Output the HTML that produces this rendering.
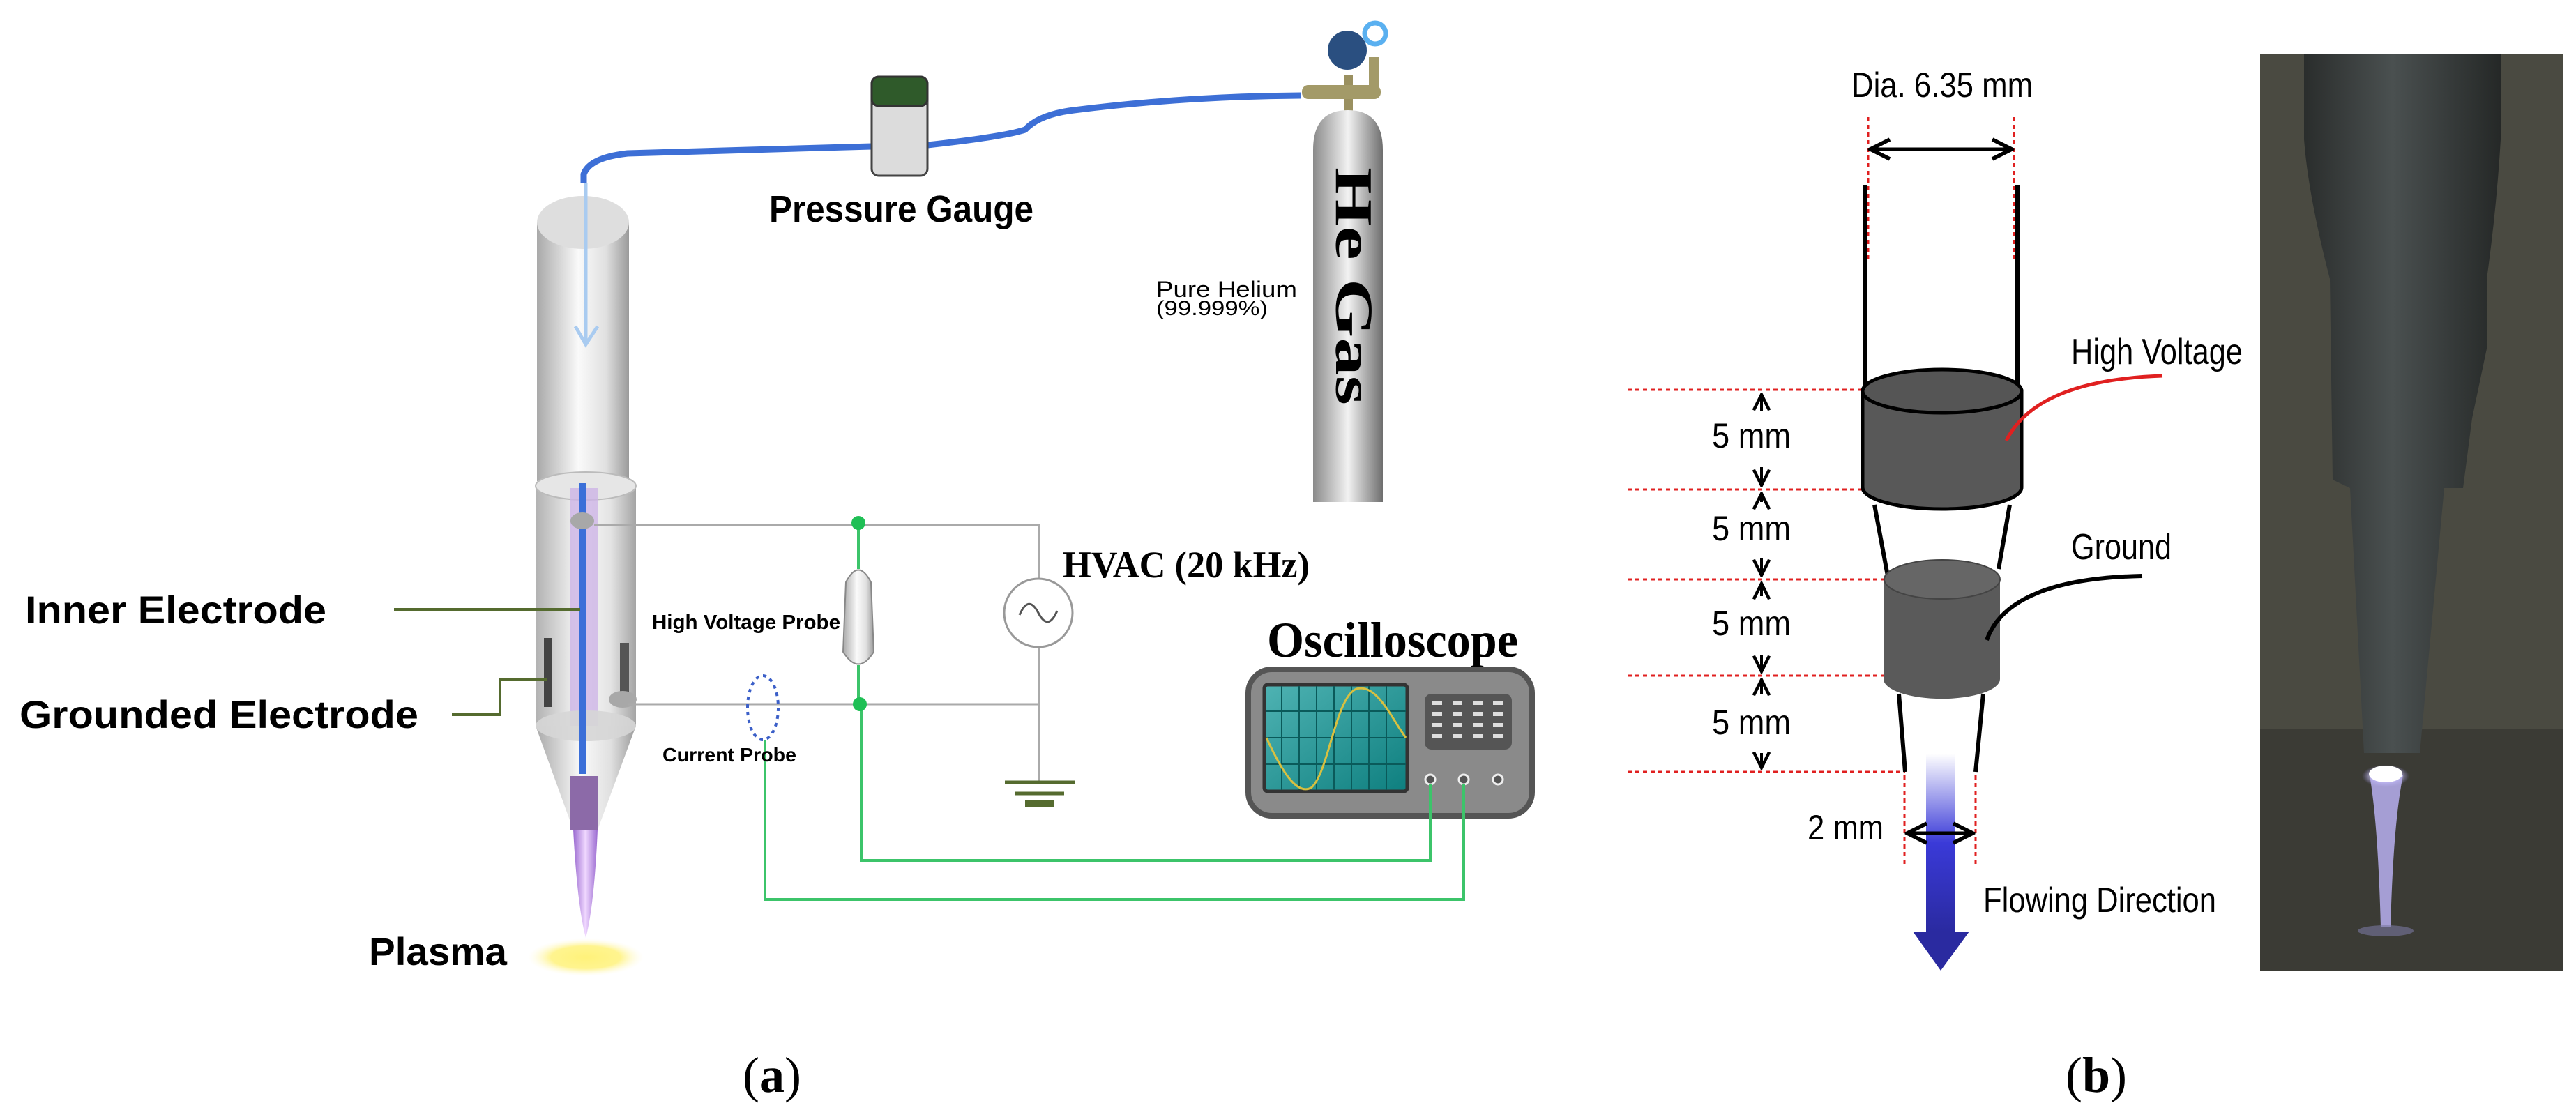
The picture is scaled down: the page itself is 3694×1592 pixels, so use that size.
<!DOCTYPE html>
<html><head><meta charset="utf-8"><style>html,body{margin:0;padding:0;background:#fff}svg{display:block}</style></head><body>
<svg width="3694" height="1592" viewBox="0 0 3694 1592" xmlns="http://www.w3.org/2000/svg">
<defs>
<linearGradient id="cyl" x1="0" x2="1" y1="0" y2="0"><stop offset="0" stop-color="#a9a9a9"/><stop offset="0.45" stop-color="#fafafa"/><stop offset="0.75" stop-color="#e0e0e0"/><stop offset="1" stop-color="#9a9a9a"/></linearGradient>
<linearGradient id="gascyl" x1="0" x2="1"><stop offset="0" stop-color="#8a8a8a"/><stop offset="0.5" stop-color="#f2f2f2"/><stop offset="1" stop-color="#6e6e6e"/></linearGradient>
<linearGradient id="plume" x1="0" x2="1"><stop offset="0" stop-color="#9a6ad0"/><stop offset="0.5" stop-color="#f0d8ff"/><stop offset="1" stop-color="#9a6ad0"/></linearGradient>
<radialGradient id="yel"><stop offset="0" stop-color="#fff27a"/><stop offset="0.6" stop-color="#fff48f"/><stop offset="1" stop-color="#fffbe0" stop-opacity="0"/></radialGradient>
<linearGradient id="flow" x1="0" y1="0" x2="0" y2="1"><stop offset="0" stop-color="#ffffff"/><stop offset="0.5" stop-color="#3a3ad8"/><stop offset="1" stop-color="#2a2aa0"/></linearGradient>
<linearGradient id="screen" x1="0" y1="0" x2="1" y2="1"><stop offset="0" stop-color="#4fb3b3"/><stop offset="1" stop-color="#0e7f7f"/></linearGradient>
<radialGradient id="glow"><stop offset="0" stop-color="#ffffff"/><stop offset="0.5" stop-color="#e8e4ff"/><stop offset="1" stop-color="#8a80d0" stop-opacity="0"/></radialGradient>
<linearGradient id="nozz" x1="0" x2="1"><stop offset="0" stop-color="#2a2d2c"/><stop offset="0.45" stop-color="#4a5050"/><stop offset="1" stop-color="#252827"/></linearGradient>
<marker id="ah" viewBox="0 0 10 10" refX="9" refY="5" markerWidth="7" markerHeight="7" orient="auto-start-reverse"><path d="M1,1 L9,5 L1,9" fill="none" stroke="#000" stroke-width="1.6"/></marker>
</defs>
<rect width="3694" height="1592" fill="#fff"/>

<!-- hose -->
<path d="M837,262 L837,250 Q845,226 900,220 L1250,210 M1330,208 Q1440,196 1470,186 Q1490,164 1540,158 Q1700,138 1865,137" fill="none" stroke="#3d6fd6" stroke-width="9"/>
<!-- gauge -->
<rect x="1250" y="110" width="80" height="142" rx="10" fill="#dcdcdc" stroke="#444" stroke-width="3"/>
<rect x="1250" y="110" width="80" height="42" rx="10" fill="#2f5a2a" stroke="#333" stroke-width="3"/>
<text x="1103" y="318" font-family="Liberation Sans,sans-serif" font-weight="bold" font-size="54" textLength="379" lengthAdjust="spacingAndGlyphs">Pressure Gauge</text>

<!-- gas cylinder -->
<rect x="1927" y="108" width="13" height="52" fill="#9a9060"/>
<rect x="1963" y="82" width="14" height="52" fill="#a39a68"/>
<rect x="1867" y="122" width="113" height="20" rx="9" fill="#a39a68"/>
<circle cx="1932" cy="72" r="28" fill="#2a4f80"/>
<circle cx="1972" cy="48" r="15" fill="#fff" stroke="#5ab0f0" stroke-width="7"/>
<path d="M1883,720 L1883,215 Q1883,158 1933,158 Q1983,158 1983,215 L1983,720 Z" fill="url(#gascyl)"/>
<text transform="translate(1916,240) rotate(90)" font-family="Liberation Serif,serif" font-weight="bold" font-size="76" textLength="341" lengthAdjust="spacingAndGlyphs">He Gas</text>
<text x="1658" y="426" font-family="Liberation Sans,sans-serif" font-size="32" textLength="202" lengthAdjust="spacingAndGlyphs">Pure Helium</text>
<text x="1658" y="452" font-family="Liberation Sans,sans-serif" font-size="30" textLength="160" lengthAdjust="spacingAndGlyphs">(99.999%)</text>

<!-- jet tube -->
<path d="M770,319 L770,690 L902,690 L902,319 Z" fill="url(#cyl)"/>
<ellipse cx="836" cy="319" rx="66" ry="38" fill="#dedede"/>
<path d="M768,697 L768,1041 L912,1041 L912,697 Z" fill="url(#cyl)" opacity="0.9"/>
<ellipse cx="840" cy="697" rx="72" ry="20" fill="#e6e6e6" stroke="#bbb" stroke-width="2"/>
<rect x="817" y="700" width="40" height="413" fill="#cdb4e6" opacity="0.8"/>
<path d="M768,1041 L822,1190 L857,1190 L912,1041 Z" fill="url(#cyl)"/>
<ellipse cx="840" cy="1041" rx="72" ry="22" fill="#d6d6d6" opacity="0.9"/>
<rect x="817" y="1113" width="40" height="77" fill="#8c6aa8"/>
<path d="M822,1190 L857,1190 Q852,1300 840,1345 Q828,1300 822,1190 Z" fill="url(#plume)"/>
<rect x="780" y="915" width="12" height="99" fill="#444"/>
<rect x="889" y="922" width="13" height="84" fill="#555"/>
<line x1="835" y1="693" x2="835" y2="1110" stroke="#3b6fd8" stroke-width="10"/>
<ellipse cx="835" cy="747" rx="17" ry="12" fill="#a8a8a8"/>
<ellipse cx="893" cy="1003" rx="20" ry="12" fill="#a8a8a8"/>
<line x1="840" y1="262" x2="840" y2="490" stroke="#a9cbf0" stroke-width="5"/>
<path d="M825,468 L840,494 L857,468" fill="none" stroke="#a9cbf0" stroke-width="5"/>
<ellipse cx="840" cy="1373" rx="83" ry="27" fill="url(#yel)"/>

<!-- labels a -->
<text x="36" y="894" font-family="Liberation Sans,sans-serif" font-weight="bold" font-size="56" textLength="432" lengthAdjust="spacingAndGlyphs">Inner Electrode</text>
<text x="28" y="1044" font-family="Liberation Sans,sans-serif" font-weight="bold" font-size="56" textLength="572" lengthAdjust="spacingAndGlyphs">Grounded Electrode</text>
<text x="529" y="1384" font-family="Liberation Sans,sans-serif" font-weight="bold" font-size="56" textLength="198" lengthAdjust="spacingAndGlyphs">Plasma</text>
<path d="M565,874 L832,874" stroke="#556b2f" stroke-width="4" fill="none"/>
<path d="M648,1025 L717,1025 L717,974 L784,974" stroke="#556b2f" stroke-width="4" fill="none"/>

<!-- circuit -->
<path d="M852,753 L1490,753 L1490,830 M1490,928 L1490,1122 M900,1010 L1490,1010" stroke="#aaaaaa" stroke-width="3" fill="none"/>
<circle cx="1489" cy="879" r="49" fill="#fff" stroke="#999" stroke-width="3"/>
<path d="M1462,882 Q1475,852 1489,879 Q1503,906 1516,876" fill="none" stroke="#555" stroke-width="3"/>
<line x1="1441" y1="1122" x2="1541" y2="1122" stroke="#556b2f" stroke-width="5"/>
<line x1="1456" y1="1138" x2="1526" y2="1138" stroke="#556b2f" stroke-width="5"/>
<rect x="1470" y="1148" width="42" height="10" fill="#556b2f"/>
<text x="1524" y="828" font-family="Liberation Serif,serif" font-weight="bold" font-size="54" textLength="354" lengthAdjust="spacingAndGlyphs">HVAC (20 kHz)</text>
<path d="M1231,750 L1231,816 M1231,954 L1231,1010 M1235,1010 L1235,1234 L2051,1234 L2051,1118 M1097,1061 L1097,1290 L2099,1290 L2099,1118" stroke="#3cc46a" stroke-width="4" fill="none"/>
<circle cx="1231" cy="750" r="10" fill="#1fbf55"/>
<circle cx="1233" cy="1010" r="10" fill="#1fbf55"/>
<path d="M1213,835 Q1231,800 1249,835 L1253,935 Q1231,970 1209,935 Z" fill="url(#cyl)" stroke="#888" stroke-width="2"/>
<text x="935" y="902" font-family="Liberation Sans,sans-serif" font-weight="bold" font-size="29" textLength="270" lengthAdjust="spacingAndGlyphs">High Voltage Probe</text>
<ellipse cx="1094" cy="1015" rx="22" ry="46" fill="none" stroke="#3b5fc8" stroke-width="4" stroke-dasharray="5,6"/>
<text x="950" y="1092" font-family="Liberation Sans,sans-serif" font-weight="bold" font-size="28" textLength="192" lengthAdjust="spacingAndGlyphs">Current Probe</text>

<!-- oscilloscope -->
<text x="1817" y="942" font-family="Liberation Serif,serif" font-weight="bold" font-size="72" textLength="360" lengthAdjust="spacingAndGlyphs">Oscilloscope</text>
<rect x="1790" y="960" width="407" height="210" rx="34" fill="#8a8a8a" stroke="#555" stroke-width="8"/>
<rect x="1813" y="982" width="205" height="153" rx="5" fill="url(#screen)" stroke="#333" stroke-width="5"/>
<g stroke="#0a5a5a" stroke-width="2">
<line x1="1838" y1="984" x2="1838" y2="1133"/><line x1="1863" y1="984" x2="1863" y2="1133"/><line x1="1888" y1="984" x2="1888" y2="1133"/><line x1="1913" y1="984" x2="1913" y2="1133"/><line x1="1938" y1="984" x2="1938" y2="1133"/><line x1="1963" y1="984" x2="1963" y2="1133"/><line x1="1988" y1="984" x2="1988" y2="1133"/>
<line x1="1815" y1="1020" x2="2016" y2="1020"/><line x1="1815" y1="1058" x2="2016" y2="1058"/><line x1="1815" y1="1096" x2="2016" y2="1096"/>
</g>
<path d="M1816,1058 C1840,1110 1860,1140 1880,1130 C1905,1110 1915,1000 1945,988 C1975,980 1995,1030 2016,1058" fill="none" stroke="#d8c040" stroke-width="3"/>
<rect x="2043" y="995" width="125" height="80" rx="10" fill="#555"/>
<g fill="#ddd">
<rect x="2054" y="1005" width="14" height="6"/><rect x="2083" y="1005" width="14" height="6"/><rect x="2112" y="1005" width="14" height="6"/><rect x="2141" y="1005" width="14" height="6"/>
<rect x="2054" y="1021" width="14" height="6"/><rect x="2083" y="1021" width="14" height="6"/><rect x="2112" y="1021" width="14" height="6"/><rect x="2141" y="1021" width="14" height="6"/>
<rect x="2054" y="1037" width="14" height="6"/><rect x="2083" y="1037" width="14" height="6"/><rect x="2112" y="1037" width="14" height="6"/><rect x="2141" y="1037" width="14" height="6"/>
<rect x="2054" y="1053" width="14" height="6"/><rect x="2083" y="1053" width="14" height="6"/><rect x="2112" y="1053" width="14" height="6"/><rect x="2141" y="1053" width="14" height="6"/>
</g>
<g fill="#555" stroke="#eee" stroke-width="3"><circle cx="2051" cy="1118" r="7"/><circle cx="2099" cy="1118" r="7"/><circle cx="2148" cy="1118" r="7"/></g>
<path d="M2051,1125 L2051,1234 M2099,1125 L2099,1290" stroke="#3cc46a" stroke-width="4"/>

<text x="1065" y="1566" font-family="Liberation Serif,serif" font-size="72">(<tspan font-weight="bold">a</tspan>)</text>
<text x="2962" y="1566" font-family="Liberation Serif,serif" font-size="72">(<tspan font-weight="bold">b</tspan>)</text>

<!-- part b -->
<text x="2655" y="139" font-family="Liberation Sans,sans-serif" font-size="50" textLength="260" lengthAdjust="spacingAndGlyphs">Dia. 6.35 mm</text>
<g stroke="#e02020" stroke-width="3" stroke-dasharray="6,5" fill="none">
<line x1="2679" y1="168" x2="2679" y2="377"/><line x1="2888" y1="168" x2="2888" y2="377"/>
<line x1="2334" y1="559" x2="2671" y2="559"/><line x1="2334" y1="702" x2="2671" y2="702"/><line x1="2334" y1="831" x2="2701" y2="831"/><line x1="2334" y1="969" x2="2701" y2="969"/><line x1="2334" y1="1107" x2="2732" y2="1107"/>
<line x1="2731" y1="1112" x2="2731" y2="1244"/><line x1="2833" y1="1112" x2="2833" y2="1244"/>
</g>
<line x1="2682" y1="214" x2="2885" y2="214" stroke="#000" stroke-width="5" marker-start="url(#ah)" marker-end="url(#ah)"/>
<line x1="2674" y1="265" x2="2674" y2="561" stroke="#000" stroke-width="6"/>
<line x1="2893" y1="265" x2="2893" y2="561" stroke="#000" stroke-width="6"/>
<path d="M2688,724 L2707,826 M2882,724 L2866,816" stroke="#000" stroke-width="6"/>
<path d="M2723,995 L2732,1107 M2844,995 L2833,1107" stroke="#000" stroke-width="6"/>
<path d="M2671,561 L2671,699 A114,31 0 0 0 2899,699 L2899,561 Z" fill="#585858" stroke="#000" stroke-width="5"/>
<ellipse cx="2785" cy="561" rx="114" ry="31" fill="#555" stroke="#000" stroke-width="5"/>
<path d="M2701,831 L2701,974 A83,28 0 0 0 2868,974 L2868,831 Z" fill="#5a5a5a"/>
<ellipse cx="2785" cy="831" rx="83" ry="28" fill="#666" stroke="#444" stroke-width="2"/>
<path d="M2877,632 Q2920,545 3101,539" fill="none" stroke="#e02020" stroke-width="5"/>
<path d="M2849,918 Q2880,830 3072,826" fill="none" stroke="#000" stroke-width="6"/>
<text x="2970" y="522" font-family="Liberation Sans,sans-serif" font-size="52" textLength="246" lengthAdjust="spacingAndGlyphs">High Voltage</text>
<text x="2970" y="802" font-family="Liberation Sans,sans-serif" font-size="52" textLength="144" lengthAdjust="spacingAndGlyphs">Ground</text>
<g stroke="#000" stroke-width="4" fill="none">
<line x1="2526" y1="566" x2="2526" y2="590" marker-start="url(#ah)"/><line x1="2526" y1="670" x2="2526" y2="696" marker-end="url(#ah)"/>
<line x1="2526" y1="708" x2="2526" y2="720" marker-start="url(#ah)"/><line x1="2526" y1="800" x2="2526" y2="825" marker-end="url(#ah)"/>
<line x1="2526" y1="837" x2="2526" y2="855" marker-start="url(#ah)"/><line x1="2526" y1="940" x2="2526" y2="963" marker-end="url(#ah)"/>
<line x1="2526" y1="975" x2="2526" y2="995" marker-start="url(#ah)"/><line x1="2526" y1="1080" x2="2526" y2="1101" marker-end="url(#ah)"/>
</g>
<g font-family="Liberation Sans,sans-serif" font-size="50">
<text x="2455" y="642" textLength="113" lengthAdjust="spacingAndGlyphs">5 mm</text>
<text x="2455" y="775" textLength="113" lengthAdjust="spacingAndGlyphs">5 mm</text>
<text x="2455" y="911" textLength="113" lengthAdjust="spacingAndGlyphs">5 mm</text>
<text x="2455" y="1053" textLength="113" lengthAdjust="spacingAndGlyphs">5 mm</text>
<text x="2592" y="1204" textLength="109" lengthAdjust="spacingAndGlyphs">2 mm</text>
<text x="2844" y="1308" textLength="334" lengthAdjust="spacingAndGlyphs">Flowing Direction</text>
</g>
<rect x="2762" y="1081" width="42" height="256" fill="url(#flow)"/>
<path d="M2743,1336 L2824,1336 L2783,1392 Z" fill="#2a2aa0"/>
<line x1="2735" y1="1195" x2="2829" y2="1195" stroke="#000" stroke-width="5" marker-start="url(#ah)" marker-end="url(#ah)"/>

<!-- photo -->
<rect x="3241" y="77" width="434" height="1316" fill="#4a4a41"/>
<rect x="3241" y="1045" width="434" height="348" fill="#3b3b35"/>
<path d="M3304,77 L3586,77 L3586,200 Q3580,300 3566,400 L3566,500 L3545,600 L3532,700 L3505,700 L3470,1080 L3390,1080 L3370,700 L3345,688 L3341,400 Q3310,280 3304,200 Z" fill="url(#nozz)"/>
<ellipse cx="3421" cy="1113" rx="34" ry="16" fill="url(#glow)"/>
<path d="M3398,1112 L3446,1112 Q3432,1180 3428,1330 L3414,1330 Q3410,1180 3398,1112 Z" fill="#b8b0f0" opacity="0.85"/>
<ellipse cx="3421" cy="1110" rx="24" ry="12" fill="#fff"/>
<ellipse cx="3421" cy="1335" rx="40" ry="8" fill="#7a78a0" opacity="0.6"/>
</svg>
</body></html>
